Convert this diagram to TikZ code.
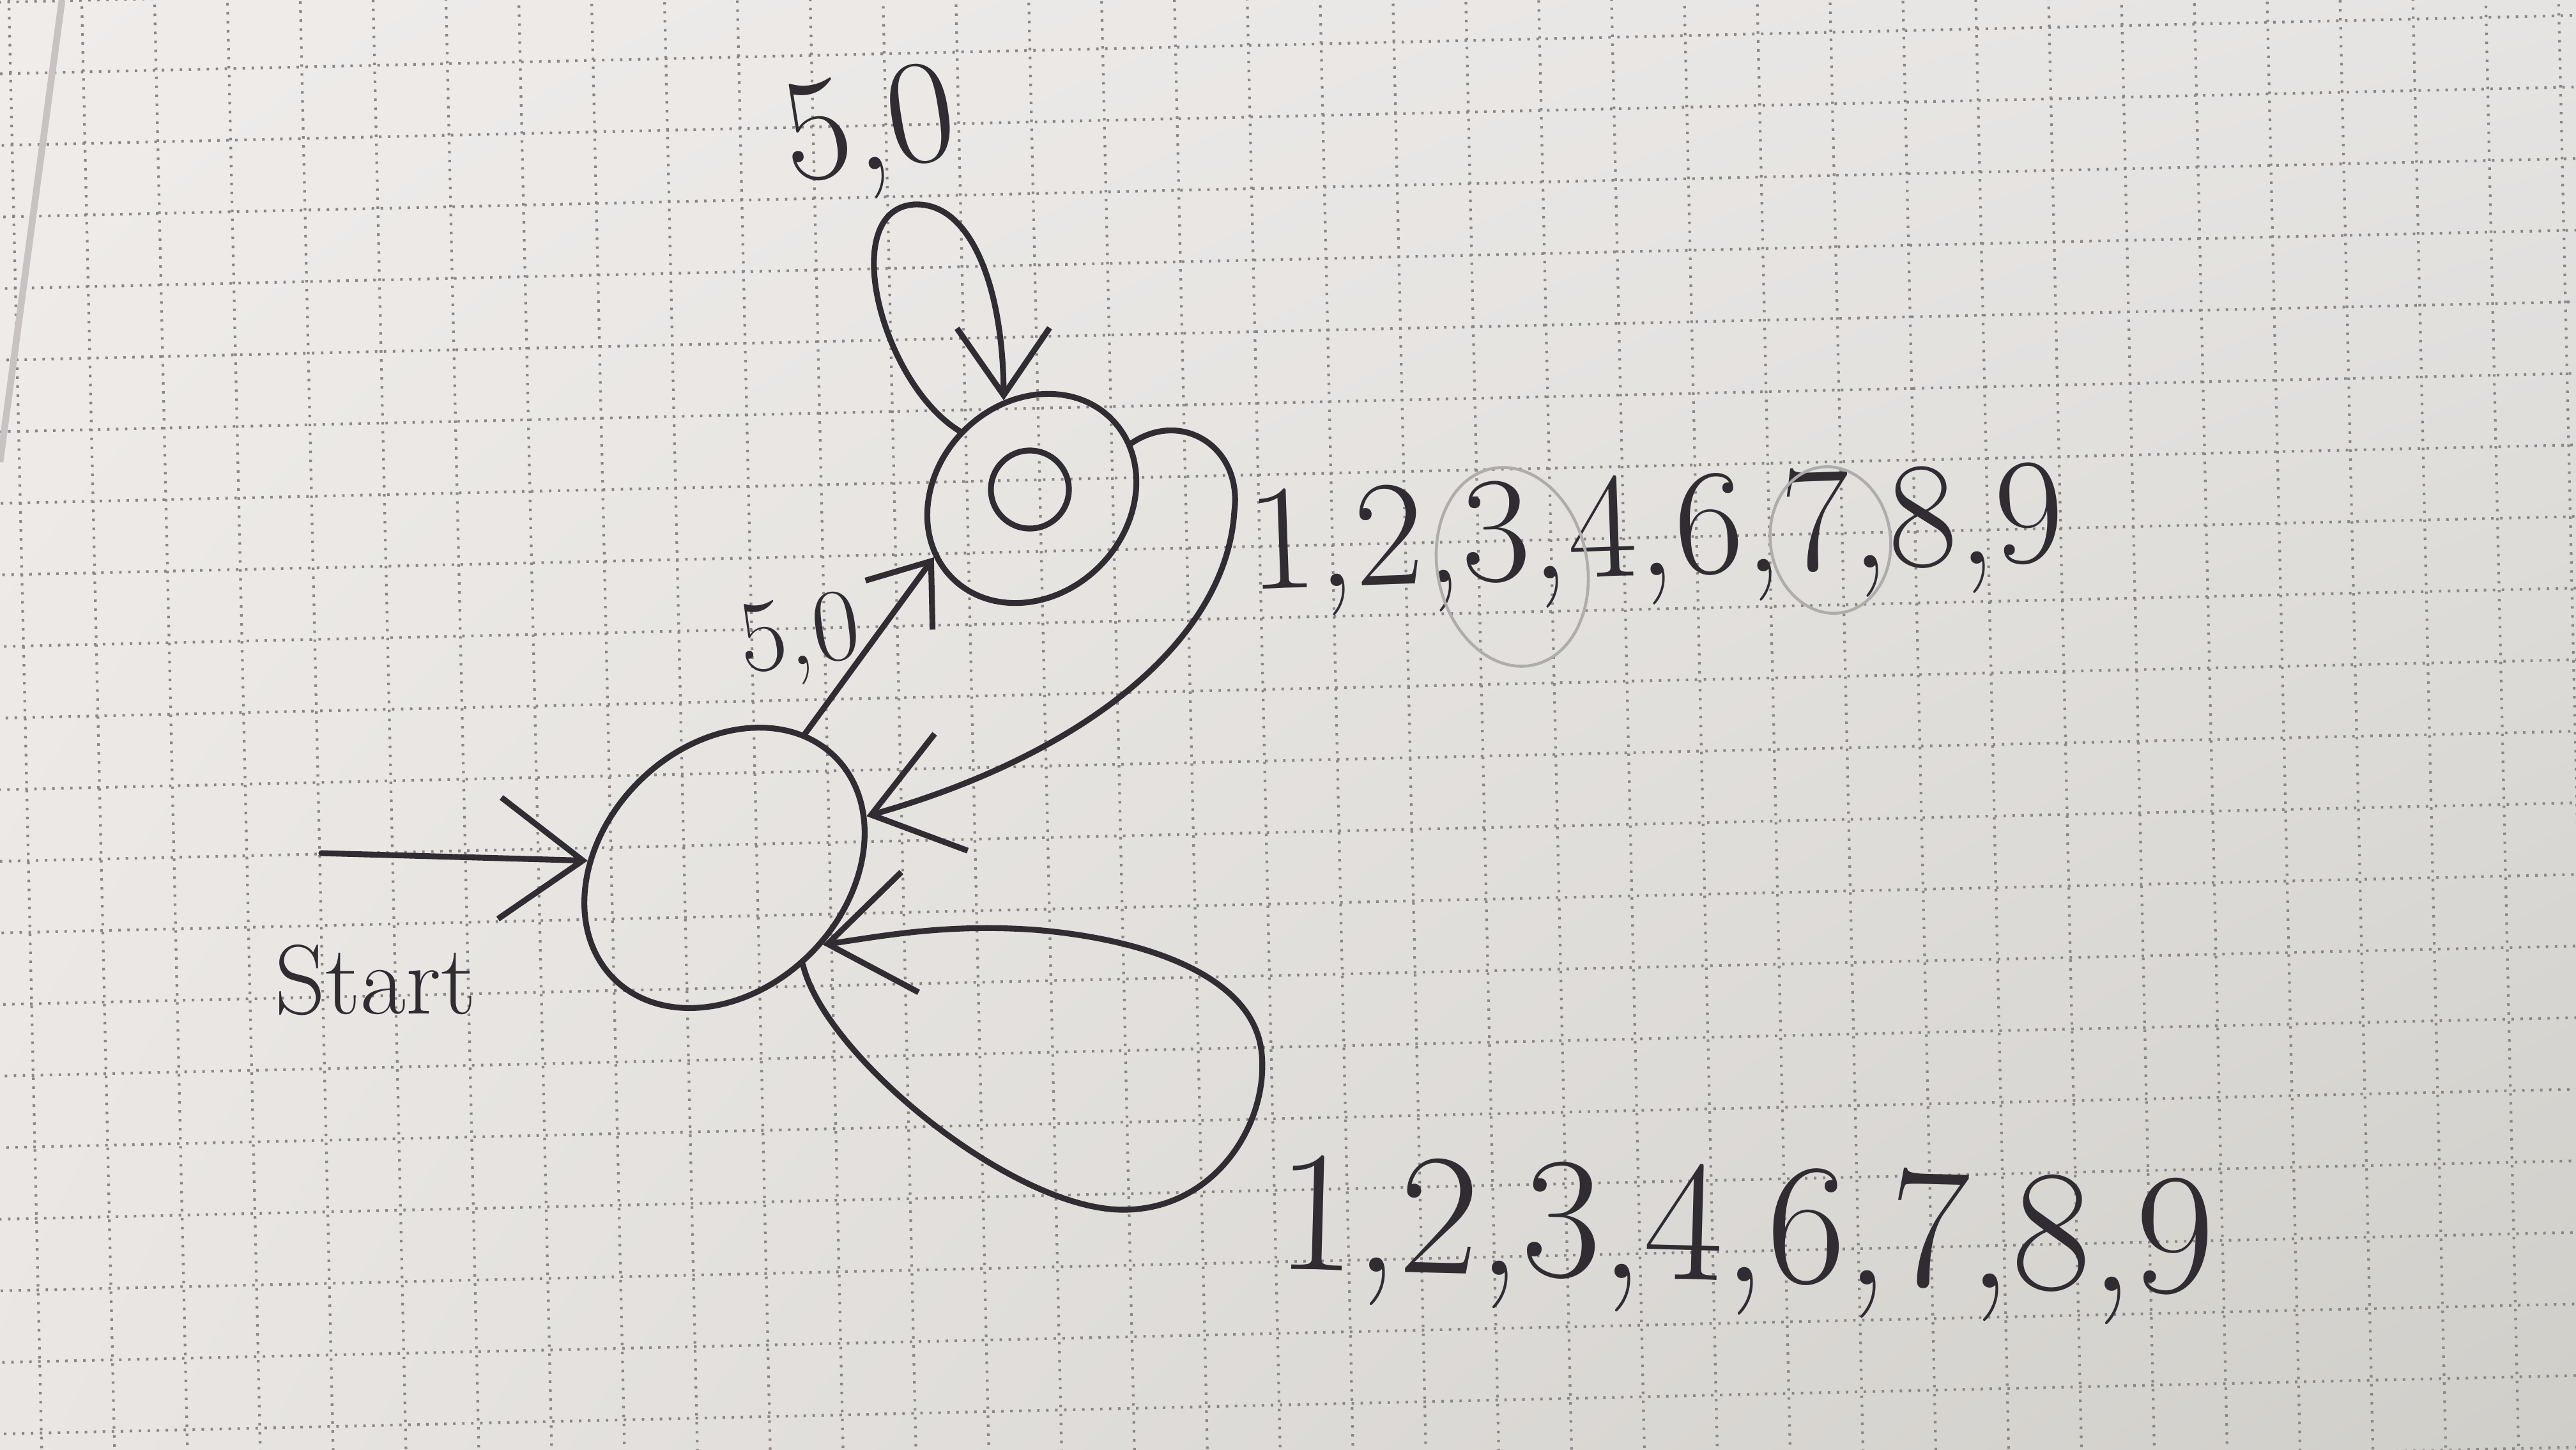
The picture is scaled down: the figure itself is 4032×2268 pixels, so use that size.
\documentclass[tikz,border=0pt]{standalone}
\usepackage{fontspec}
\usetikzlibrary{arrows.meta,shapes.geometric,shadings}
\definecolor{ink}{RGB}{48,44,50}
\definecolor{paperTL}{RGB}{239,236,234}
\definecolor{paperTR}{RGB}{230,228,226}
\definecolor{paperBL}{RGB}{233,230,228}
\definecolor{paperBR}{RGB}{208,206,201}
\definecolor{griddot}{RGB}{140,134,134}
\definecolor{pencil}{RGB}{175,172,172}
\definecolor{pageedge}{RGB}{200,194,194}
\begin{document}
\begin{tikzpicture}[x=0.01cm,y=-0.01cm,
  pen/.style={draw=ink,line width=2.6pt,line cap=round,line join=round},
  tipL/.style={-{Straight Barb[length=1.3cm,width=1.9cm]}},
  tipM/.style={-{Straight Barb[length=1.05cm,width=1.45cm]}},
  tipS/.style={-{Straight Barb[length=0.85cm,width=1.3cm]}},
  lab/.style={text=ink,inner sep=0pt,anchor=base},
  gridline/.style={draw=griddot,line width=1.2pt,dash pattern=on 1.1pt off 2.9pt}]
\useasboundingbox (0,0) rectangle (4032,2268);
\shade[upper left=paperTL,upper right=paperTR,lower left=paperBL,lower right=paperBR] (0,0) rectangle (4032,2268);
% dotted grid of the paper
\begin{scope}
\clip (0,0) rectangle (4032,2268);
\begin{scope}[rotate around={1.3:(2016,1134)}]
\foreach \i in {-2,...,37} \draw[gridline] ({40+114*\i},-300) -- ({40+114*\i},2600);
\foreach \j in {-4,...,23} \draw[gridline] (-300,{70+112*\j}) -- (4400,{70+112*\j});
\end{scope}
\draw[pageedge,line width=3pt] (97,0) -- (0,723);
\end{scope}
% states
\node[pen,ellipse,rotate=45,minimum width=4.9cm,minimum height=3.8cm,inner sep=0pt] (A) at (1134,1358) {};
\node[pen,ellipse,rotate=45,minimum width=3.52cm,minimum height=3.0cm,inner sep=0pt] (B) at (1615,780) {};
\node[pen,circle,minimum size=1.22cm,inner sep=0pt] (Bin) at (1612,766) {};
% connectors
\coordinate (S) at (503,1335);
\draw[pen,tipL] (S) -- (A.132);
\draw[pen,tipS] (A.14) -- (B.166);
\draw[pen,tipM] (B.92) .. controls (1380,600) and (1310,330) .. (1430,320)
   .. controls (1520,315) and (1570,450) .. (B.61);
\draw[pen,tipL] (B.-16) .. controls (1850,640) and (1945,700) .. (1932,800)
   .. controls (1920,1000) and (1700,1180) .. (A.-25);
\draw[pen,tipL] (A.-96) .. controls (1290,1650) and (1580,1890) .. (1755,1893)
   .. controls (1900,1895) and (1985,1760) .. (1975,1650)
   .. controls (1965,1530) and (1800,1470) .. (1620,1455)
   .. controls (1480,1445) and (1380,1465) .. (A.-83);
% labels
\node[lab,font=\fontsize{66}{70}\selectfont,rotate=9] (lloopB) at (1371,265) {5,0};
\node[lab,font=\fontsize{46}{50}\selectfont,rotate=8] (lAB) at (1258,1040) {5,0};
\node[lab,font=\fontsize{44}{50}\selectfont] (lstart) at (588,1586) {Start};
\node[lab,font=\fontsize{67}{72}\selectfont,rotate=2] (lBA) at (2594,900) {1,2,3,4,6,7,8,9};
\node[lab,font=\fontsize{77}{82}\selectfont,rotate=-1.5] (lloopA) at (2730,2005) {1,2,3,4,6,7,8,9};
% faint pencil circles
\draw[pencil,line width=1.3pt,rotate around={12:(2367,887)}] (2367,887) ellipse [x radius=117, y radius=157];
\draw[pencil,line width=1.3pt,rotate around={8:(2865,845)}] (2865,845) ellipse [x radius=94, y radius=115];
\end{tikzpicture}
\end{document}
